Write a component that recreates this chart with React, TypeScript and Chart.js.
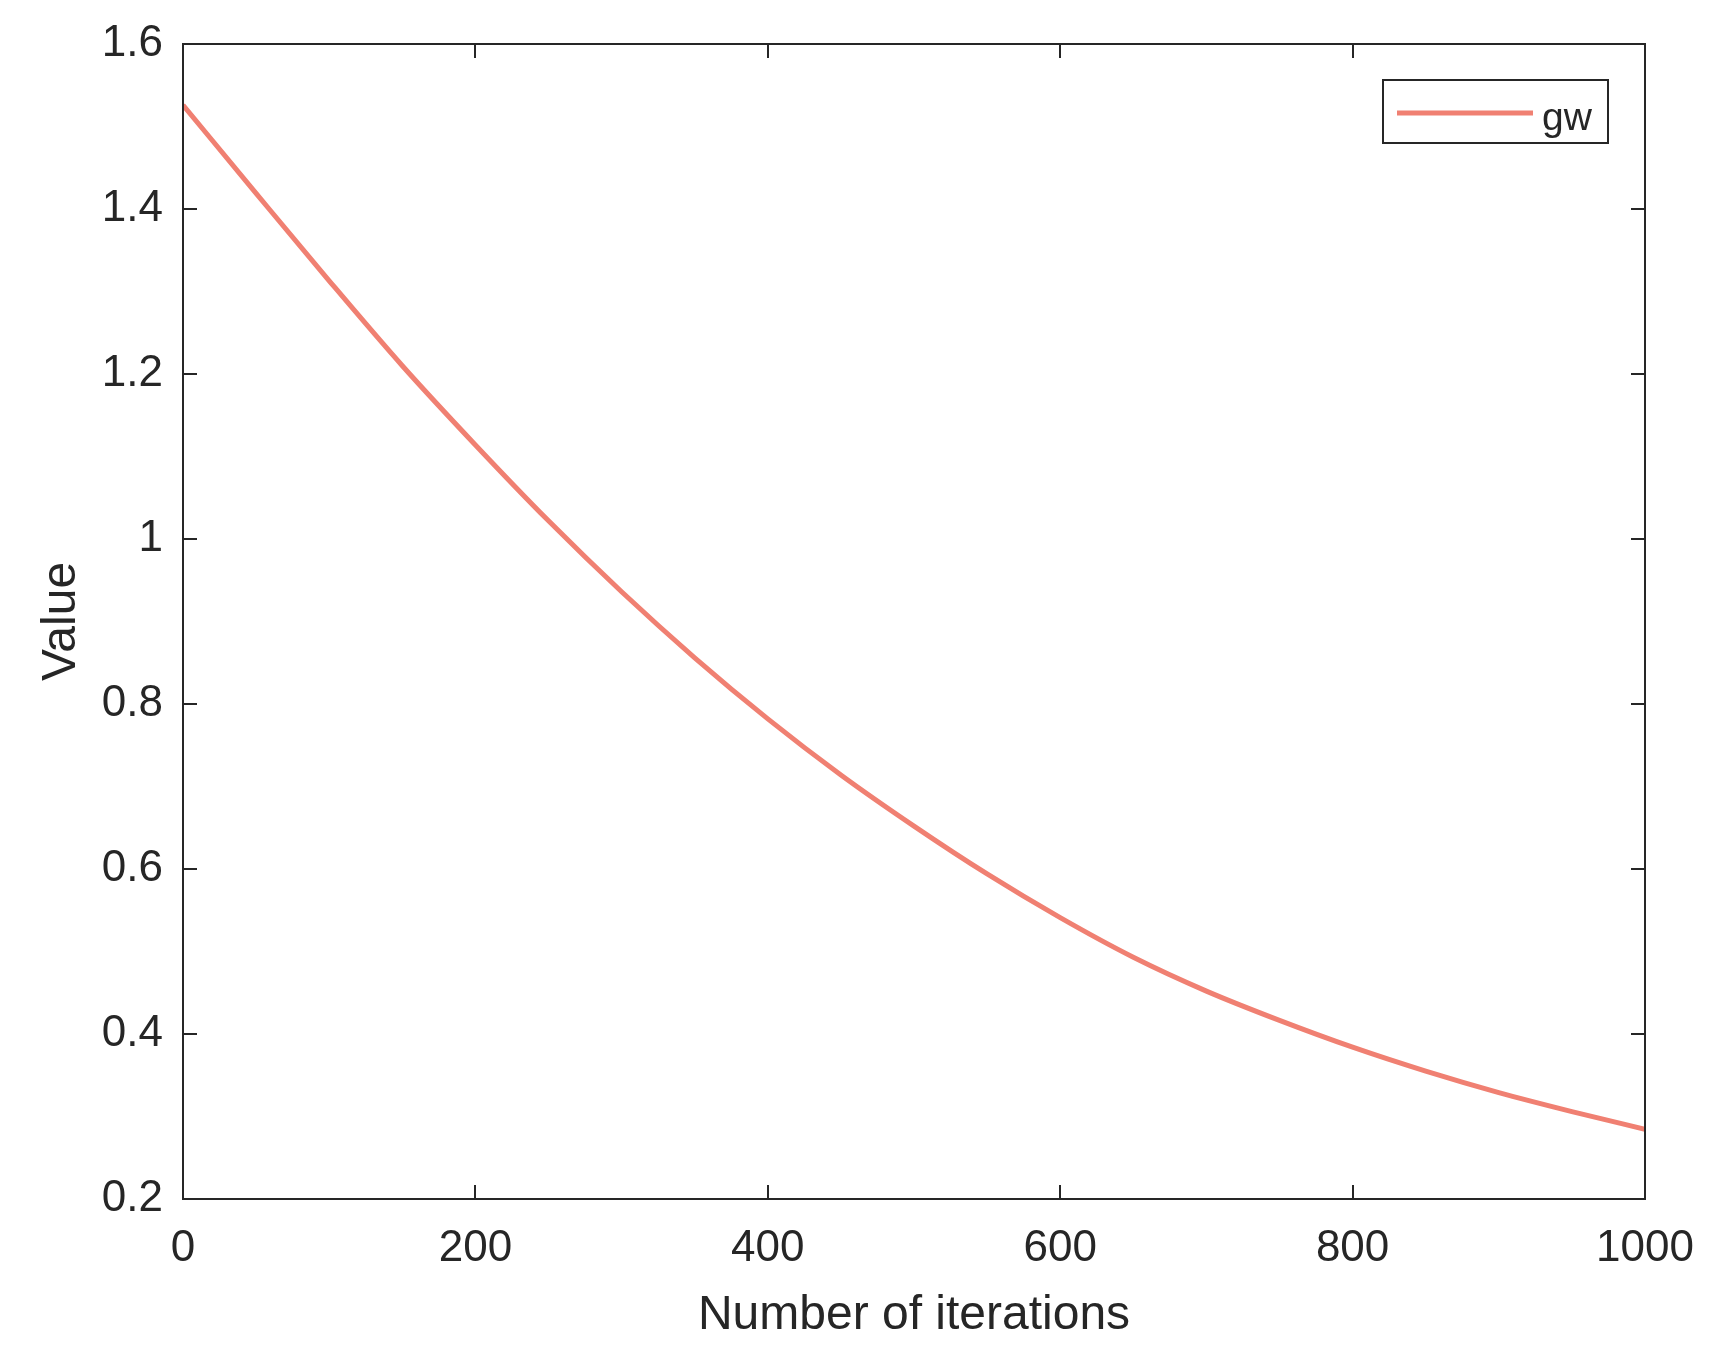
import React, { useEffect, useRef } from "react";
import { Chart, registerables } from "chart.js";

Chart.register(...registerables);

const iterations = [0, 50, 100, 150, 200, 250, 300, 350, 400, 450, 500, 550, 600, 650, 700, 750, 800, 850, 900, 950, 1000];
const gwValues = [1.526, 1.419, 1.313, 1.21, 1.114, 1.022, 0.936, 0.856, 0.782, 0.714, 0.652, 0.594, 0.541, 0.493, 0.452, 0.4165, 0.384, 0.355, 0.329, 0.306, 0.2845];
const seriesName = "gw";
const xTitle = "Number of iterations";
const yTitle = "Value";

const INK = "#262626";
const LINE = "rgb(240,128,114)";
const FONT = "'Liberation Sans', Arial, Helvetica, sans-serif";

const framePlugin = {
  id: "matlabFrame",
  afterDatasetsDraw(chart: any) {
    const { ctx, chartArea: a, scales } = chart;
    const tl = 14;
    ctx.save();
    ctx.strokeStyle = INK;
    ctx.lineWidth = 2;
    ctx.beginPath();
    ctx.rect(a.left, a.top, a.right - a.left, a.bottom - a.top);
    ctx.stroke();
    ctx.beginPath();
    for (const t of scales.x.ticks) {
      const px = Math.round(scales.x.getPixelForValue(t.value));
      ctx.moveTo(px, a.bottom);
      ctx.lineTo(px, a.bottom - tl);
      ctx.moveTo(px, a.top);
      ctx.lineTo(px, a.top + tl);
    }
    for (const t of scales.y.ticks) {
      const py = Math.round(scales.y.getPixelForValue(t.value));
      ctx.moveTo(a.left, py);
      ctx.lineTo(a.left + tl, py);
      ctx.moveTo(a.right, py);
      ctx.lineTo(a.right - tl, py);
    }
    ctx.stroke();

    // legend box
    const bx = 1383, by = 80, bw = 225, bh = 63;
    ctx.fillStyle = "#ffffff";
    ctx.fillRect(bx, by, bw, bh);
    ctx.lineWidth = 2;
    ctx.strokeRect(bx, by, bw, bh);
    const ds = chart.data.datasets[0];
    ctx.strokeStyle = ds.borderColor;
    ctx.lineWidth = 5;
    ctx.beginPath();
    ctx.moveTo(bx + 14, by + 33);
    ctx.lineTo(bx + 150, by + 33);
    ctx.stroke();
    ctx.fillStyle = INK;
    ctx.font = `39px ${FONT}`;
    ctx.textBaseline = "alphabetic";
    ctx.textAlign = "left";
    ctx.fillText(ds.label, bx + 159, by + 50);
    ctx.restore();
  },
};

export default function App() {
  const ref = useRef<HTMLCanvasElement | null>(null);
  useEffect(() => {
    if (!ref.current) return;
    const points = iterations.map((x, i) => ({ x, y: gwValues[i] }));
    const chart = new Chart(ref.current, {
      type: "line",
      data: {
        datasets: [
          {
            label: seriesName,
            data: points,
            borderColor: LINE,
            borderWidth: 5,
            pointRadius: 0,
            fill: false,
            cubicInterpolationMode: "monotone",
          },
        ],
      },
      options: {
        responsive: false,
        animation: false,
        devicePixelRatio: 1,
        layout: { padding: { top: 44, right: 65, left: 0, bottom: 0 } },
        plugins: { legend: { display: false }, tooltip: { enabled: false } },
        scales: {
          x: {
            type: "linear",
            min: 0,
            max: 1000,
            grid: { display: false, drawTicks: false },
            border: { display: false },
            ticks: {
              stepSize: 200,
              color: INK,
              padding: 23,
              maxRotation: 0,
              font: { family: FONT, size: 44 },
              callback: (v: any) => String(v),
            },
            title: {
              display: true,
              text: xTitle,
              color: INK,
              font: { family: FONT, size: 48 },
              padding: { top: 0, bottom: 11 },
            },
            afterFit: (s: any) => {
              s.height = 157;
              s.paddingLeft = 0;
              s.paddingRight = 0;
            },
          },
          y: {
            type: "linear",
            min: 0.2,
            max: 1.6,
            grid: { display: false, drawTicks: false },
            border: { display: false },
            ticks: {
              stepSize: 0.2,
              color: INK,
              padding: 20,
              font: { family: FONT, size: 44 },
              callback: (v: any) => String(Number(Number(v).toFixed(1))),
            },
            title: {
              display: true,
              text: yTitle,
              color: INK,
              font: { family: FONT, size: 48 },
              padding: { top: 33, bottom: 0 },
            },
            afterFit: (s: any) => {
              s.width = 183;
              s.paddingTop = 0;
              s.paddingBottom = 0;
            },
          },
        },
      },
      plugins: [framePlugin],
    });
    return () => chart.destroy();
  }, []);
  return (
    <div style={{ position: "absolute", left: 0, top: 0, width: 1710, height: 1356, background: "#fff" }}>
      <canvas ref={ref} width={1710} height={1356} style={{ width: 1710, height: 1356, display: "block" }} />
    </div>
  );
}
